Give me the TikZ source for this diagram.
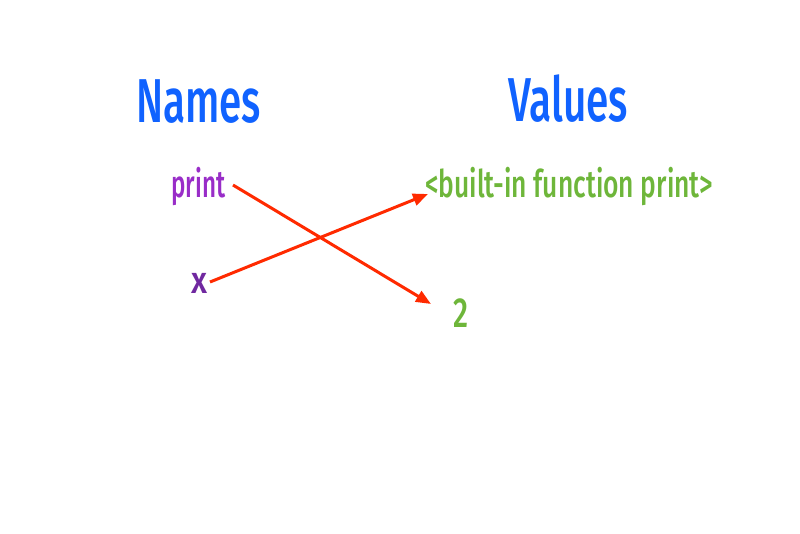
\documentclass[tikz,border=0pt]{standalone}
\usepackage{fontspec}
\usepackage{graphicx}
\setmainfont{Fira Sans}[UprightFont={* Medium}]
\usetikzlibrary{arrows.meta}
\definecolor{hblue}{RGB}{16,98,255}
\definecolor{nprint}{RGB}{153,45,200}
\definecolor{nx}{RGB}{112,40,160}
\definecolor{vgreen}{RGB}{110,182,58}
\definecolor{ared}{RGB}{255,42,0}
\newcommand{\fitw}[2]{\resizebox{#1}{\height}{#2}}
\tikzset{
  big/.style={inner sep=0pt, anchor=base west, text=hblue, font=\fontsize{62}{62}\selectfont},
  small/.style={inner sep=0pt, anchor=base west, font=\fontsize{38}{38}\selectfont},
  link/.style={draw=ared, line width=3pt, -{Triangle[length=15pt,width=12pt]}}
}
\begin{document}
\begin{tikzpicture}[x=1pt,y=-1pt]
\useasboundingbox[fill=white] (0,0) rectangle (800,533);
\node[big] (names) at (136,122) {\fitw{125pt}{Names}};
\node[big] (values) at (508,121) {\fitw{120pt}{Values}};
\node[small, text=nprint] (print) at (171,197) {\fitw{54pt}{print}};
\node[small, text=nx] (x) at (191,293) {\fitw{16pt}{x}};
\node[small, text=vgreen] (bif) at (425,197) {\fitw{288pt}{<built-in function print>}};
\node[small, text=vgreen, font=\fontsize{42}{42}\selectfont] (two) at (453,327) {\fitw{15pt}{2}};
\coordinate (ps) at (233,185);
\coordinate (pe) at (431,304);
\coordinate (xs) at (210,282);
\coordinate (xe) at (428,194);
\draw[link] (ps) -- (pe);
\draw[link] (xs) -- (xe);
\end{tikzpicture}
\end{document}
